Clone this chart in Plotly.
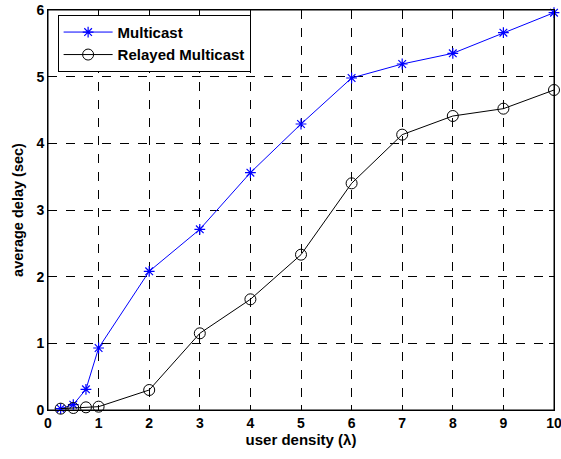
import plotly.graph_objects as go

x_vals = [0.25, 0.5, 0.75, 1, 2, 3, 4, 5, 6, 7, 8, 9, 10]
multicast = [0.02, 0.08, 0.31, 0.93, 2.08, 2.71, 3.56, 4.29, 4.98, 5.19, 5.35, 5.66, 5.96]
relayed = [0.02, 0.03, 0.04, 0.05, 0.30, 1.15, 1.66, 2.33, 3.40, 4.13, 4.41, 4.52, 4.80]
x_ticks = [0, 1, 2, 3, 4, 5, 6, 7, 8, 9, 10]
y_ticks = [0, 1, 2, 3, 4, 5, 6]

FONT = "Liberation Sans, Arial, sans-serif"

fig = go.Figure()
fig.add_trace(go.Scatter(
    x=x_vals, y=multicast, name="Multicast", mode="lines+markers",
    line=dict(color="#0000ff", width=1),
    marker=dict(symbol="asterisk-open", size=9, color="#0000ff",
                line=dict(color="#0000ff", width=1.2)),
    cliponaxis=False,
))
fig.add_trace(go.Scatter(
    x=x_vals, y=relayed, name="Relayed Multicast", mode="lines+markers",
    line=dict(color="#000000", width=1),
    marker=dict(symbol="circle-open", size=11, color="#000000",
                line=dict(color="#000000", width=1)),
    cliponaxis=False,
))

axis_common = dict(
    showline=True, linecolor="black", linewidth=1, mirror="allticks",
    ticks="inside", ticklen=5, tickcolor="black",
    showgrid=True, gridcolor="black", griddash="dash", gridwidth=1,
    zeroline=False, automargin=False, ticklabeloverflow="allow",
    tickfont=dict(family=FONT, size=14, color="black", weight="bold"),
)

fig.update_xaxes(
    range=[0, 10], tickvals=x_ticks, ticktext=[str(v) for v in x_ticks],
    title=dict(text="user density (λ)", standoff=4,
               font=dict(family=FONT, size=15, color="black", weight="bold")),
    **axis_common,
)
fig.update_yaxes(
    range=[0, 6], tickvals=y_ticks, ticktext=[str(v) for v in y_ticks],
    title=dict(text="average delay (sec)", standoff=9,
               font=dict(family=FONT, size=14.5, color="black", weight="bold")),
    **axis_common,
)

fig.update_layout(
    width=561, height=459,
    margin=dict(l=48, r=7, t=10, b=49),
    plot_bgcolor="white", paper_bgcolor="white",
    showlegend=True,
    legend=dict(
        x=0.019, y=0.988, xanchor="left", yanchor="top",
        bgcolor="white", bordercolor="black", borderwidth=1,
        font=dict(family=FONT, size=15, color="black", weight="bold"),
        tracegroupgap=0, itemwidth=49,
    ),
    shapes=[dict(type="rect", xref="paper", yref="paper", x0=0, x1=1, y0=0, y1=1,
                 line=dict(color="black", width=1), layer="below")],
)

fig.write_html(
    "out.html",
    config={"displayModeBar": False},
    post_script=(
        "document.body.style.margin='0px';"
        "document.body.style.overflow='hidden';"
        "document.documentElement.style.overflow='hidden';"
    ),
)
